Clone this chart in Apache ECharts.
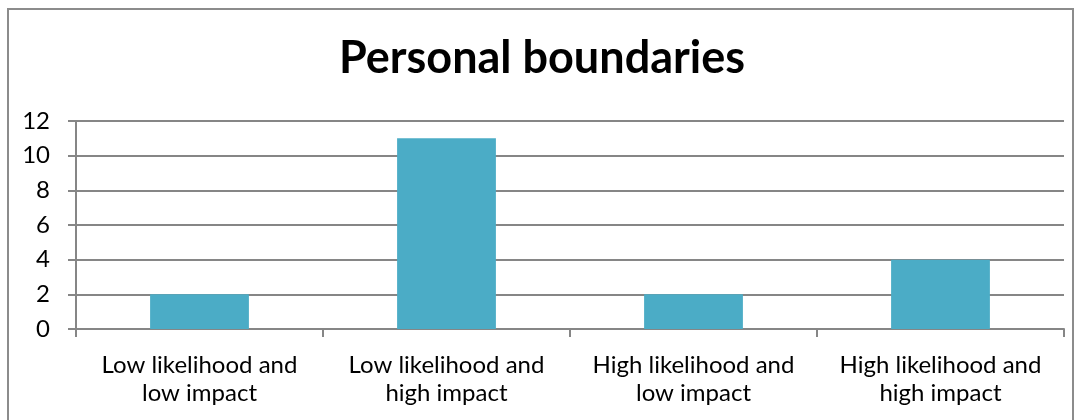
<!DOCTYPE html>
<html>
<head>
<meta charset="utf-8">
<script src="https://cdn.jsdelivr.net/npm/echarts@6/dist/echarts.min.js"></script>
<style>
html,body{margin:0;padding:0;background:#fff;}
#frame{position:absolute;left:7px;top:8px;width:1067px;height:430px;border:2px solid #8c8c8c;box-sizing:border-box;border-bottom:none;}
#chart{position:absolute;left:0;top:0;width:1084px;height:420px;}
</style>
</head>
<body>
<div id="chart"></div>
<div id="frame"></div>
<script>
const titleText = "Personal boundaries";
const categories = ["Low likelihood and\nlow impact", "Low likelihood and\nhigh impact", "High likelihood and\nlow impact", "High likelihood and\nhigh impact"];
const values = [2, 11, 2, 4];
const yTicks = [0, 2, 4, 6, 8, 10, 12];

const chart = echarts.init(document.getElementById('chart'), null, {renderer: 'canvas'});
chart.setOption({
  animation: false,
  backgroundColor: '#fff',
  title: {
    text: titleText,
    left: 'center',
    top: 31,
    textStyle: {fontFamily: 'Lato', fontWeight: 'bold', fontSize: 45, color: '#000'}
  },
  grid: {left: 76, right: 20, top: 121, bottom: 91, containLabel: false},
  xAxis: {
    type: 'category',
    data: categories,
    axisLine: {lineStyle: {color: '#868686', width: 2}},
    axisTick: {show: true, length: 8, lineStyle: {color: '#868686', width: 2}},
    axisLabel: {fontFamily: 'Lato', fontSize: 24, color: '#000', lineHeight: 28, margin: 22, interval: 0}
  },
  yAxis: {
    type: 'value',
    min: yTicks[0],
    max: yTicks[yTicks.length - 1],
    interval: 2,
    axisLine: {show: true, lineStyle: {color: '#868686', width: 2}},
    axisTick: {show: true, length: 8, lineStyle: {color: '#868686', width: 2}},
    splitLine: {lineStyle: {color: '#868686', width: 2}},
    axisLabel: {fontFamily: 'Lato', fontSize: 24, color: '#000', margin: 26}
  },
  series: [{
    type: 'bar',
    data: values,
    barWidth: '40%',
    itemStyle: {color: '#4BACC6'}
  }]
});
</script>
</body>
</html>
